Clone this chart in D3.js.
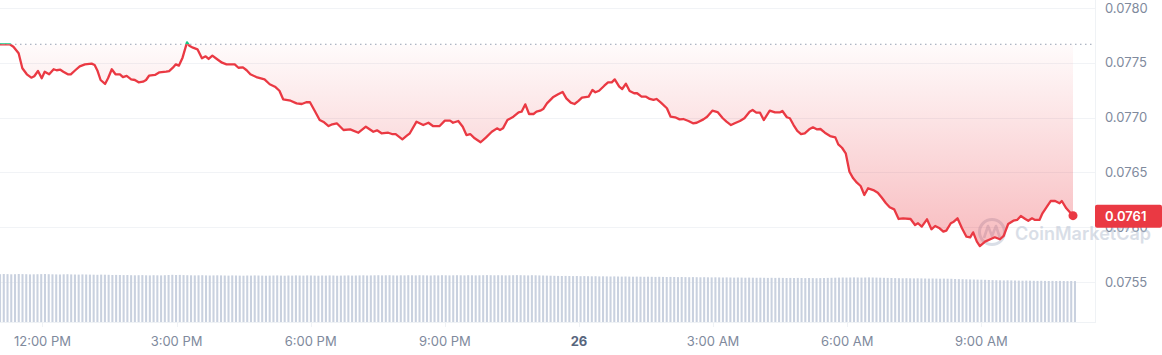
<!DOCTYPE html>
<html>
<head>
<meta charset="utf-8">
<script src="https://cdn.jsdelivr.net/npm/d3@7"></script>
<style>
  body { margin: 0; background: #fff; }
  svg { display: block; font-family: Inter, "Noto Sans", sans-serif; }
</style>
</head>
<body>
<svg id="chart" width="1162" height="355"></svg>
<script>
// minutes after the first sample (11:03 AM on the 25th)
const priceMinutes = [
  0, 13, 18, 25, 30, 36, 42, 46, 51, 56,
  60, 66, 72, 76, 81, 85, 91, 95, 101, 107,
  114, 123, 127, 131, 135, 141, 145, 150, 155, 161,
  165, 170, 176, 181, 186, 192, 196, 200, 208, 214,
  223, 227, 232, 236, 240, 245, 251, 254, 259, 265,
  271, 276, 280, 285, 291, 298, 304, 315, 320, 326,
  331, 336, 344, 355, 362, 369, 375, 380, 390, 398,
  405, 411, 416, 423, 429, 435, 441, 446, 452, 461,
  470, 481, 491, 501, 506, 512, 521, 526, 531, 540,
  546, 550, 559, 568, 575, 581, 590, 597, 604, 608,
  615, 621, 626, 631, 637, 645, 652, 660, 667, 671,
  675, 681, 689, 696, 700, 705, 710, 716, 720, 725,
  729, 734, 742, 749, 755, 760, 766, 771, 776, 781,
  790, 795, 799, 804, 811, 816, 821, 825, 831, 835,
  840, 845, 851, 855, 861, 867, 872, 877, 881, 887,
  895, 900, 906, 912, 917, 924, 930, 935, 944, 949,
  956, 963, 970, 975, 981, 986, 993, 999, 1006, 1010,
  1015, 1020, 1025, 1033, 1040, 1047, 1050, 1056, 1060, 1065,
  1070, 1075, 1080, 1086, 1091, 1096, 1101, 1107, 1114, 1121,
  1125, 1130, 1135, 1140, 1145, 1150, 1155, 1160, 1165, 1172,
  1178, 1183, 1189, 1194, 1200, 1206, 1212, 1222, 1228, 1232,
  1237, 1244, 1250, 1255, 1261, 1266, 1270, 1276, 1280, 1285,
  1291, 1297, 1302, 1306, 1311, 1315, 1322, 1329, 1335, 1342,
  1347, 1353, 1360, 1365, 1370, 1376, 1380, 1385, 1389, 1395,
  1399, 1405, 1410, 1416, 1422, 1425, 1431, 1440
];

const prices = [
  0.077669, 0.077669, 0.077647, 0.077587, 0.077450, 0.077395, 0.077364, 0.077377, 0.077425, 0.077359,
  0.077419, 0.077395, 0.077441, 0.077432, 0.077437, 0.077419, 0.077395, 0.077395, 0.077432, 0.077468,
  0.077486, 0.077492, 0.077480, 0.077425, 0.077343, 0.077307, 0.077359, 0.077441, 0.077395, 0.077395,
  0.077370, 0.077380, 0.077349, 0.077343, 0.077322, 0.077328, 0.077343, 0.077382, 0.077389, 0.077413,
  0.077419, 0.077425, 0.077455, 0.077486, 0.077474, 0.077547, 0.077687, 0.077656, 0.077638, 0.077623,
  0.077541, 0.077559, 0.077535, 0.077565, 0.077535, 0.077501, 0.077486, 0.077486, 0.077455, 0.077459,
  0.077432, 0.077395, 0.077370, 0.077349, 0.077304, 0.077282, 0.077245, 0.077167, 0.077154, 0.077130,
  0.077124, 0.077140, 0.077140, 0.077054, 0.076978, 0.076957, 0.076923, 0.076939, 0.076948, 0.076887,
  0.076893, 0.076862, 0.076917, 0.076871, 0.076884, 0.076857, 0.076862, 0.076850, 0.076850, 0.076802,
  0.076835, 0.076857, 0.076963, 0.076932, 0.076953, 0.076923, 0.076923, 0.076972, 0.076972, 0.076953,
  0.076969, 0.076917, 0.076841, 0.076850, 0.076811, 0.076775, 0.076817, 0.076871, 0.076902, 0.076887,
  0.076902, 0.076978, 0.077008, 0.077048, 0.077054, 0.077121, 0.077033, 0.077033, 0.077054, 0.077063,
  0.077078, 0.077130, 0.077185, 0.077213, 0.077234, 0.077176, 0.077136, 0.077124, 0.077151, 0.077182,
  0.077191, 0.077252, 0.077231, 0.077245, 0.077291, 0.077322, 0.077322, 0.077349, 0.077282, 0.077261,
  0.077309, 0.077243, 0.077222, 0.077222, 0.077191, 0.077191, 0.077170, 0.077161, 0.077170, 0.077136,
  0.077085, 0.077008, 0.077003, 0.076984, 0.076987, 0.076969, 0.076948, 0.076953, 0.076984, 0.077008,
  0.077063, 0.077051, 0.076994, 0.076963, 0.076932, 0.076948, 0.076969, 0.076994, 0.077054, 0.077069,
  0.077045, 0.077045, 0.076978, 0.077063, 0.077048, 0.077048, 0.077060, 0.077003, 0.076994, 0.076932,
  0.076878, 0.076850, 0.076857, 0.076893, 0.076911, 0.076893, 0.076896, 0.076862, 0.076832, 0.076820,
  0.076756, 0.076725, 0.076674, 0.076506, 0.076446, 0.076406, 0.076376, 0.076294, 0.076355, 0.076339,
  0.076315, 0.076273, 0.076218, 0.076182, 0.076163, 0.076075, 0.076081, 0.076075, 0.076020, 0.076036,
  0.076005, 0.076072, 0.075981, 0.076011, 0.075990, 0.075959, 0.075968, 0.076036, 0.076050, 0.076081,
  0.075990, 0.075913, 0.075908, 0.075953, 0.075868, 0.075828, 0.075868, 0.075890, 0.075908, 0.075890,
  0.075920, 0.076029, 0.076059, 0.076066, 0.076102, 0.076075, 0.076059, 0.076081, 0.076066, 0.076066,
  0.076127, 0.076187, 0.076239, 0.076239, 0.076218, 0.076239, 0.076172, 0.076105
];

// 5-minute volume bars (millions)
const volumes = [
  4.78, 4.80, 4.79, 4.77, 4.78, 4.80, 4.79, 4.78, 4.76, 4.77, 4.78, 4.79, 4.80, 4.78, 4.77, 4.76, 4.75, 4.77, 4.78, 4.76, 4.75, 4.74, 4.76, 4.75,
  4.74, 4.73, 4.72, 4.74, 4.73, 4.72, 4.70, 4.71, 4.70, 4.69, 4.70, 4.68, 4.67, 4.68, 4.69, 4.67, 4.66, 4.68, 4.67, 4.66, 4.68, 4.70, 4.72, 4.70,
  4.71, 4.69, 4.68, 4.67, 4.66, 4.67, 4.68, 4.66, 4.65, 4.66, 4.67, 4.66, 4.65, 4.64, 4.66, 4.65, 4.64, 4.63, 4.65, 4.64, 4.66, 4.65, 4.64, 4.63,
  4.64, 4.65, 4.66, 4.64, 4.63, 4.65, 4.64, 4.66, 4.65, 4.64, 4.66, 4.65, 4.64, 4.63, 4.65, 4.64, 4.66, 4.65, 4.63, 4.64, 4.65, 4.66, 4.64, 4.65,
  4.66, 4.67, 4.65, 4.66, 4.67, 4.68, 4.66, 4.67, 4.68, 4.66, 4.65, 4.67, 4.66, 4.68, 4.67, 4.66, 4.68, 4.67, 4.66, 4.65, 4.67, 4.66, 4.68, 4.67,
  4.66, 4.67, 4.68, 4.67, 4.66, 4.68, 4.67, 4.66, 4.67, 4.68, 4.69, 4.68, 4.67, 4.68, 4.67, 4.66, 4.67, 4.68, 4.69, 4.68, 4.67, 4.66, 4.68, 4.67,
  4.66, 4.65, 4.64, 4.63, 4.62, 4.61, 4.60, 4.61, 4.60, 4.59, 4.60, 4.58, 4.59, 4.58, 4.57, 4.58, 4.56, 4.57, 4.56, 4.55, 4.56, 4.55, 4.54, 4.55,
  4.54, 4.53, 4.54, 4.53, 4.52, 4.53, 4.52, 4.51, 4.52, 4.51, 4.50, 4.51, 4.50, 4.49, 4.50, 4.49, 4.48, 4.49, 4.48, 4.47, 4.48, 4.47, 4.46, 4.47,
  4.46, 4.45, 4.46, 4.45, 4.44, 4.45, 4.44, 4.43, 4.44, 4.43, 4.42, 4.43, 4.42, 4.41, 4.42, 4.41, 4.42, 4.41, 4.40, 4.41, 4.40, 4.41, 4.40, 4.39,
  4.40, 4.39, 4.38, 4.39, 4.40, 4.41, 4.42, 4.43, 4.44, 4.45, 4.44, 4.45, 4.46, 4.45, 4.44, 4.45, 4.46, 4.45, 4.44, 4.43, 4.42, 4.41, 4.40, 4.39,
  4.38, 4.37, 4.38, 4.37, 4.36, 4.37, 4.36, 4.35, 4.34, 4.35, 4.34, 4.33, 4.34, 4.33, 4.32, 4.30, 4.29, 4.28, 4.27, 4.26, 4.25, 4.24, 4.23, 4.22,
  4.20, 4.19, 4.18, 4.17, 4.16, 4.17, 4.16, 4.15, 4.14, 4.13, 4.14, 4.13, 4.12, 4.11, 4.12, 4.11, 4.10, 4.11, 4.10, 4.11, 4.10, 4.09, 4.10, 4.09
];

const yTicks = [0.0755, 0.076, 0.0765, 0.077, 0.0775, 0.078];

const red = "#ea3943",
  green = "#16c784",
  labelGray = "#808a9d";

const svg = d3.select("#chart");
const width = 1162,
  height = 355;
const plotRight = 1095,
  dataRight = 1073,
  volTop = 274,
  volBottom = 322;

const start = new Date(2024, 2, 25, 11, 3);
const data = priceMinutes.map((m, i) => ({
  t: d3.timeMinute.offset(start, m),
  v: prices[i],
}));
const openPrice = prices[0];

const x = d3
  .scaleTime()
  .domain([start, d3.timeMinute.offset(start, 1440)])
  .range([0, dataRight]);
const y = d3.scaleLinear().domain([0.0755, 0.078]).range([282, 8]);
const yVol = d3
  .scaleLinear()
  .domain([0, d3.max(volumes)])
  .range([volBottom, volTop]);
const xVol = d3
  .scaleBand()
  .domain(d3.range(volumes.length))
  .range([-1, dataRight + 3])
  .paddingInner(0.45);

const defs = svg.append("defs");
const yBase = y(openPrice);
const grad = defs
  .append("linearGradient")
  .attr("id", "fillGrad")
  .attr("gradientUnits", "userSpaceOnUse")
  .attr("x1", 0)
  .attr("x2", 0)
  .attr("y1", yBase)
  .attr("y2", y(d3.min(prices)));
grad.append("stop").attr("offset", 0).attr("stop-color", red).attr("stop-opacity", 0.02);
grad.append("stop").attr("offset", 1).attr("stop-color", red).attr("stop-opacity", 0.34);

defs.append("clipPath").attr("id", "clipAbove")
  .append("rect").attr("x", -5).attr("y", 0).attr("width", plotRight + 5).attr("height", yBase);
defs.append("clipPath").attr("id", "clipBelow")
  .append("rect").attr("x", -5).attr("y", yBase).attr("width", plotRight + 5).attr("height", height - yBase);

// grid lines
svg
  .append("g")
  .selectAll("line")
  .data(yTicks)
  .join("line")
  .attr("x1", 0)
  .attr("x2", plotRight)
  .attr("y1", (d) => Math.round(y(d)) + 0.5)
  .attr("y2", (d) => Math.round(y(d)) + 0.5)
  .attr("stroke", "#f1f3f6");

svg
  .append("line")
  .attr("x1", plotRight + 0.5)
  .attr("x2", plotRight + 0.5)
  .attr("y1", 0)
  .attr("y2", volBottom + 1)
  .attr("stroke", "#eff2f5");
svg
  .append("line")
  .attr("x1", 0)
  .attr("x2", plotRight)
  .attr("y1", volBottom + 0.5)
  .attr("y2", volBottom + 0.5)
  .attr("stroke", "#eff2f5");

// volume
svg
  .append("g")
  .selectAll("rect")
  .data(volumes)
  .join("rect")
  .attr("x", (d, i) => xVol(i))
  .attr("width", xVol.bandwidth())
  .attr("y", (d) => yVol(d))
  .attr("height", (d) => volBottom - yVol(d))
  .attr("fill", "#c9d1df");

// x axis
const xTicks = x.ticks(d3.timeHour.every(3)).filter((d) => x(d) > 5);
const fmtHour = d3.timeFormat("%-I:%M %p"),
  fmtDay = d3.timeFormat("%-d");
const xAxis = svg.append("g");
xAxis
  .selectAll("line")
  .data(xTicks)
  .join("line")
  .attr("x1", (d) => Math.round(x(d)) + 0.5)
  .attr("x2", (d) => Math.round(x(d)) + 0.5)
  .attr("y1", volBottom)
  .attr("y2", volBottom + 5)
  .attr("stroke", "#eff2f5");
xAxis
  .selectAll("text")
  .data(xTicks)
  .join("text")
  .attr("x", (d) => x(d))
  .attr("y", 346)
  .attr("text-anchor", "middle")
  .attr("font-size", 13)
  .attr("fill", (d) => (d.getHours() === 0 ? "#58667e" : labelGray))
  .attr("font-weight", (d) => (d.getHours() === 0 ? 700 : 400))
  .text((d) => (d.getHours() === 0 ? fmtDay(d) : fmtHour(d)));

// y axis labels
svg
  .append("g")
  .selectAll("text")
  .data(yTicks)
  .join("text")
  .attr("x", 1105)
  .attr("y", (d) => y(d))
  .attr("dy", "0.35em")
  .attr("font-size", 13)
  .attr("fill", labelGray)
  .text(d3.format(".4f"));

// watermark
const wm = svg.append("g").attr("opacity", 0.5);
wm.append("circle")
  .attr("cx", 992)
  .attr("cy", 232)
  .attr("r", 12.5)
  .attr("fill", "none")
  .attr("stroke", "#b4bfd0")
  .attr("stroke-width", 3);
wm.append("path")
  .attr("d", "M984,238 L988,226 L992,236 L996,226 L1000,238")
  .attr("fill", "none")
  .attr("stroke", "#b4bfd0")
  .attr("stroke-width", 2.6)
  .attr("stroke-linejoin", "round");
wm.append("text")
  .attr("x", 1015)
  .attr("y", 240)
  .attr("font-size", 18)
  .attr("font-weight", 600)
  .attr("fill", "#b4bfd0")
  .text("CoinMarketCap");

// area + line
const area = d3
  .area()
  .x((d) => x(d.t))
  .y0(yBase)
  .y1((d) => y(d.v));
const line = d3
  .line()
  .x((d) => x(d.t))
  .y((d) => y(d.v));

svg
  .append("path")
  .datum(data)
  .attr("clip-path", "url(#clipBelow)")
  .attr("fill", "url(#fillGrad)")
  .attr("d", area);

svg
  .append("line")
  .attr("x1", 0)
  .attr("x2", plotRight - 2)
  .attr("y1", yBase)
  .attr("y2", yBase)
  .attr("stroke", "#98a1b3")
  .attr("stroke-width", 1)
  .attr("stroke-dasharray", "1.5,3.5");

[
  ["clipAbove", green],
  ["clipBelow", red],
].forEach(([clip, color]) => {
  svg
    .append("path")
    .datum(data)
    .attr("clip-path", `url(#${clip})`)
    .attr("fill", "none")
    .attr("stroke", color)
    .attr("stroke-width", 2.3)
    .attr("stroke-linejoin", "round")
    .attr("d", line);
});

const last = data[data.length - 1];
svg
  .append("circle")
  .attr("cx", x(last.t))
  .attr("cy", y(last.v))
  .attr("r", 4.5)
  .attr("fill", red);

// current price tag
svg
  .append("rect")
  .attr("x", plotRight)
  .attr("y", y(last.v) - 11)
  .attr("width", width - plotRight)
  .attr("height", 23)
  .attr("rx", 2)
  .attr("fill", red);
svg
  .append("text")
  .attr("x", 1105)
  .attr("y", y(last.v) + 0.5)
  .attr("dy", "0.35em")
  .attr("font-size", 13)
  .attr("font-weight", 600)
  .attr("fill", "#fff")
  .text(d3.format(".4f")(last.v));
</script>
</body>
</html>
